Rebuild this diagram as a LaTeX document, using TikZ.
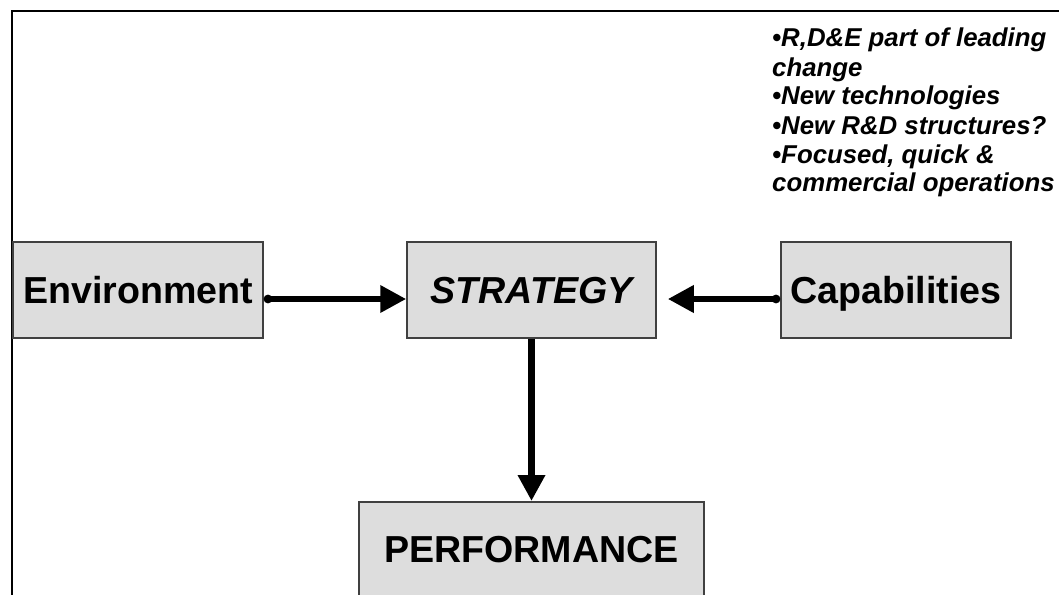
\documentclass[tikz,border=0pt]{standalone}
\usepackage{fontspec}
\setmainfont{Liberation Sans}
\usetikzlibrary{arrows.meta}
\definecolor{boxfill}{HTML}{DDDDDD}
\definecolor{boxline}{HTML}{404040}
\tikzset{
  blk/.style={draw=boxline, fill=boxfill, line width=1.5pt, inner sep=0pt,
    text height=26pt, text depth=0pt,
    font=\fontsize{37.6}{40}\selectfont\bfseries},
  flow/.style={line width=6.5pt, -{Triangle[length=26pt,width=26pt]}},
  dotflow/.style={line width=6.5pt, {Circle[length=8.5pt]}-{Triangle[length=26pt,width=26pt]}},
  frame/.style={line width=2pt, line cap=rect}
}
\begin{document}
\begin{tikzpicture}[x=1pt,y=-1pt]
\useasboundingbox (0,0) rectangle (1059,594);
\clip (0,0) rectangle (1059,594);
% frame
\coordinate (ftr) at (1062,11.5);
\coordinate (ftl) at (12,11.5);
\coordinate (fbl) at (12,600);
\draw[frame] (ftr) -- (ftl) -- (fbl);
% boxes
\node[blk, minimum width=250pt, minimum height=96pt] (env) at (138,290) {Environment};
\node[blk, minimum width=249pt, minimum height=96pt] (strat) at (531.5,290) {\itshape STRATEGY};
\node[blk, minimum width=230pt, minimum height=96pt] (cap) at (896,290) {Capabilities};
\node[blk, minimum width=345pt, minimum height=96pt, anchor=north] (perf) at (531.5,501) {PERFORMANCE};
% bullet text
\node[anchor=base west, inner sep=0pt] (notes) at (772,47)
  {\parbox[t]{290pt}{\raggedright\fontsize{25.8}{29}\selectfont\bfseries\itshape
   •R,D\&E part of leading\\
   change\\
   •New technologies\\
   •New R\&D structures?\\
   •Focused, quick \&\\
   commercial operations}};
% connectors
\draw[dotflow] ([yshift=-9pt]env.east) -- ([yshift=-9pt]strat.west);
\draw[dotflow] ([yshift=-9pt]cap.west) -- ([xshift=11pt,yshift=-9pt]strat.east);
\draw[flow] (strat.south) -- (perf.north);
\end{tikzpicture}
\end{document}
